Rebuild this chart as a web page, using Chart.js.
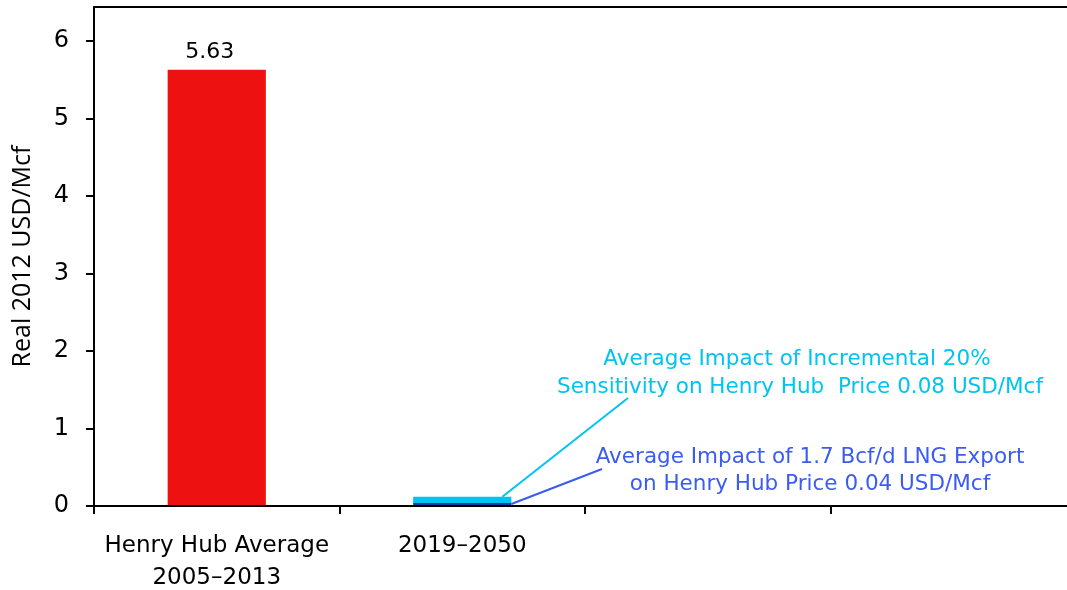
<!DOCTYPE html>
<html>
<head>
<meta charset="utf-8">
<script src="https://cdn.jsdelivr.net/npm/chart.js@4.4.1/dist/chart.umd.min.js"></script>
<style>
  html, body { margin: 0; padding: 0; background: #fff; overflow: hidden; }
  #wrap { width: 1076px; height: 590px; }
</style>
</head>
<body>
<div id="wrap"><canvas id="c" width="1076" height="590"></canvas></div>
<script>
// Henry Hub price and the impact of LNG exports (real 2012 USD/Mcf)
const categories = [["Henry Hub Average", "2005\u20132013"], "2019\u20132050", "", ""];
const historicalAverage = [5.63, null, null, null];
const lngExportImpact = [null, 0.04, null, null];
const sensitivityImpact = [null, 0.08, null, null];
const yTicks = [0, 1, 2, 3, 4, 5, 6];
const yMax = 6.44;

const exportNote = ["Average Impact of 1.7 Bcf/d LNG Export", "on Henry Hub Price 0.04 USD/Mcf"];
const sensitivityNote = ["Average Impact of Incremental 20%", "Sensitivity on Henry Hub  Price 0.08 USD/Mcf"];

const RED = "#EE1111";
const NAVY = "#1E3A9A";
const CYAN = "#00C4F0";
const BLUE = "#3A5CF2";
const TICK_FONT = "DejaVu Sans";

// value label above the historical bar
const valueLabels = {
  id: "valueLabels",
  afterDatasetsDraw(chart) {
    const ctx = chart.ctx;
    const meta = chart.getDatasetMeta(0);
    ctx.save();
    ctx.font = "22px " + TICK_FONT;
    ctx.fillStyle = "#000";
    ctx.textAlign = "center";
    ctx.textBaseline = "middle";
    historicalAverage.forEach((v, i) => {
      if (v == null) return;
      const el = meta.data[i];
      ctx.fillText(v.toFixed(2), el.x - 7, el.y - 17);
    });
    ctx.restore();
  }
};

// callouts with leader lines pointing at the stacked impact bar
const callouts = {
  id: "callouts",
  afterDatasetsDraw(chart) {
    const ctx = chart.ctx;
    const navyEl = chart.getDatasetMeta(1).data[1];
    const cyanEl = chart.getDatasetMeta(2).data[1];
    const half = navyEl.width / 2;
    ctx.save();
    ctx.lineWidth = 2;
    // sensitivity leader
    ctx.strokeStyle = CYAN;
    ctx.beginPath();
    ctx.moveTo(cyanEl.x + half - 9, cyanEl.y);
    ctx.lineTo(628, 398);
    ctx.stroke();
    // export leader
    ctx.strokeStyle = BLUE;
    ctx.beginPath();
    ctx.moveTo(navyEl.x + half, (navyEl.y + navyEl.base) / 2);
    ctx.lineTo(602, 469);
    ctx.stroke();

    ctx.font = "21.5px " + TICK_FONT;
    ctx.textAlign = "center";
    ctx.textBaseline = "middle";
    ctx.fillStyle = CYAN;
    ctx.fillText(sensitivityNote[0], 797, 359);
    ctx.fillText(sensitivityNote[1], 800, 387);
    ctx.fillStyle = BLUE;
    ctx.fillText(exportNote[0], 810, 457);
    ctx.fillText(exportNote[1], 810, 484);
    ctx.restore();
  }
};

new Chart(document.getElementById("c"), {
  type: "bar",
  data: {
    labels: categories,
    datasets: [
      { label: "Henry Hub Average", data: historicalAverage, backgroundColor: RED },
      { label: "LNG export impact", data: lngExportImpact, backgroundColor: NAVY },
      { label: "20% sensitivity", data: sensitivityImpact, backgroundColor: CYAN }
    ]
  },
  options: {
    responsive: false,
    animation: false,
    events: [],
    layout: { padding: 0 },
    datasets: { bar: { categoryPercentage: 0.4, barPercentage: 1.0 } },
    plugins: { legend: { display: false }, tooltip: { enabled: false } },
    scales: {
      x: {
        stacked: true,
        offset: true,
        grid: { display: true, offset: true, drawOnChartArea: false, tickLength: 8, color: "#000", lineWidth: 2 },
        border: { display: true, color: "#000", width: 2 },
        ticks: { color: "#000", font: { family: TICK_FONT, size: 23, lineHeight: 1.35 }, padding: 17, maxRotation: 0, autoSkip: false },
        afterFit(s) { s.height = 84; }
      },
      xTop: {
        position: "top",
        grid: { display: false },
        border: { display: true, color: "#000", width: 2 },
        ticks: { display: false },
        afterFit(s) { s.height = 7; }
      },
      y: {
        stacked: true,
        min: 0,
        max: yMax,
        afterBuildTicks(s) { s.ticks = yTicks.map(v => ({ value: v })); },
        grid: { display: true, drawOnChartArea: false, tickLength: 8, color: "#000", lineWidth: 2 },
        border: { display: true, color: "#000", width: 2 },
        ticks: { color: "#000", font: { family: TICK_FONT, size: 24 }, padding: 17 },
        title: { display: true, text: "Real 2012 USD/Mcf", color: "#000", font: { family: "Open Sans", size: 25 }, padding: { top: 8, bottom: 4 } },
        afterFit(s) { s.width = 94; s.paddingTop = 0; s.paddingBottom = 0; }
      }
    }
  },
  plugins: [valueLabels, callouts]
});
</script>
</body>
</html>
